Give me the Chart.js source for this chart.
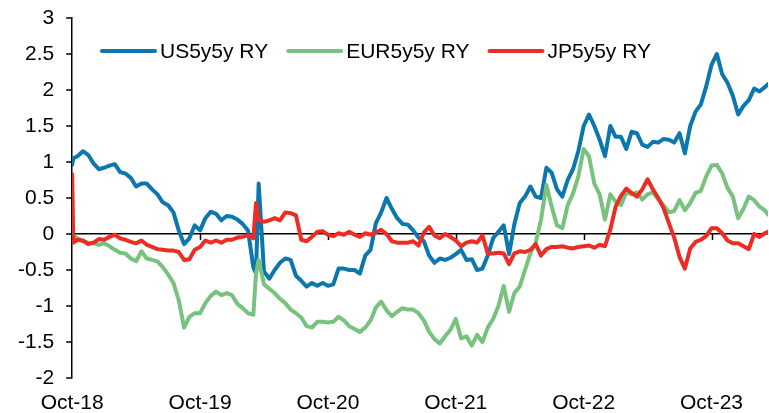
<!DOCTYPE html>
<html>
<head>
<meta charset="utf-8">
<script src="https://cdn.jsdelivr.net/npm/chart.js@4.4.1/dist/chart.umd.min.js"></script>
<style>
  html, body { margin: 0; padding: 0; background: #fff; }
  #wrap { width: 769px; height: 413px; }
</style>
</head>
<body>
<div id="wrap"><canvas id="chart" width="769" height="413"></canvas></div>
<script>
// ── Data (months since Oct-18, half-month steps) ─────────────
const months = [
  0, 0.1, 0.5, 1, 1.5, 2, 2.5, 3, 3.5, 4, 4.5, 5, 5.5, 6, 6.5, 7, 7.5, 8, 8.5, 9, 9.5,
  10, 10.5, 11, 11.5, 12, 12.5, 13, 13.5, 14, 14.5, 15, 15.5, 16, 16.5, 17, 17.25, 17.5,
  18, 18.5, 19, 19.5, 20, 20.5, 21, 21.5, 22, 22.5, 23, 23.5, 24, 24.5, 25, 25.5, 26,
  26.5, 27, 27.5, 28, 28.5, 29, 29.5, 30, 30.5, 31, 31.5, 32, 32.5, 33, 33.5, 34, 34.5,
  35, 35.5, 36, 36.5, 37, 37.5, 38, 38.5, 39, 39.5, 40, 40.5, 41, 41.5, 42, 42.5, 43,
  43.5, 44, 44.5, 45, 45.5, 46, 46.5, 47, 47.5, 48, 48.5, 49, 49.5, 50, 50.5, 51, 51.5,
  52, 52.5, 53, 53.5, 54, 54.5, 55, 55.5, 56, 56.5, 57, 57.5, 58, 58.5, 59, 59.5, 60,
  60.5, 61, 61.5, 62, 62.5, 63, 63.5, 64, 64.5, 65, 65.3
];

const us5y5y = [
  0.96, 1.05, 1.08, 1.15, 1.10, 0.98, 0.90, 0.92, 0.95, 0.97, 0.86, 0.84, 0.78, 0.66, 0.70, 0.70, 0.62, 0.55, 0.44, 0.40, 0.30,
  0.05, -0.14, -0.06, 0.12, 0.05, 0.22, 0.31, 0.28, 0.19, 0.25, 0.24, 0.20, 0.14, 0.05, -0.46, -0.55, 0.70,
  -0.52, -0.62, -0.50, -0.40, -0.34, -0.36, -0.58, -0.65, -0.73, -0.68, -0.72, -0.68, -0.72, -0.70, -0.48, -0.48, -0.50,
  -0.50, -0.55, -0.30, -0.22, 0.15, 0.30, 0.50, 0.35, 0.22, 0.14, 0.13, 0.05, -0.05, -0.10, -0.30, -0.40, -0.34,
  -0.36, -0.33, -0.28, -0.22, -0.36, -0.35, -0.50, -0.48, -0.30, -0.06, 0.03, 0.12, -0.28, 0.14, 0.43, 0.52, 0.66,
  0.52, 0.50, 0.92, 0.85, 0.62, 0.52, 0.75, 0.90, 1.15, 1.50, 1.66, 1.50, 1.31, 1.08, 1.50, 1.35, 1.35,
  1.18, 1.42, 1.40, 1.24, 1.21, 1.28, 1.27, 1.32, 1.31, 1.27, 1.40, 1.12, 1.50, 1.70, 1.80, 2.05, 2.35,
  2.50, 2.22, 2.10, 1.92, 1.66, 1.78, 1.86, 2.02, 1.98, 2.04, 2.08
];

const eur5y5y = [
  0.00, -0.02, -0.06, -0.10, -0.12, -0.13, -0.15, -0.13, -0.17, -0.22, -0.26, -0.27, -0.34, -0.38, -0.24, -0.34, -0.36, -0.38, -0.46, -0.56, -0.68,
  -0.92, -1.30, -1.15, -1.10, -1.10, -0.96, -0.86, -0.80, -0.85, -0.82, -0.85, -0.97, -1.03, -1.10, -1.12, -0.55, -0.36,
  -0.70, -0.76, -0.82, -0.90, -0.96, -1.05, -1.10, -1.16, -1.28, -1.30, -1.22, -1.22, -1.23, -1.22, -1.15, -1.20, -1.28,
  -1.32, -1.36, -1.30, -1.20, -1.02, -0.94, -1.06, -1.14, -1.08, -1.03, -1.05, -1.05, -1.10, -1.20, -1.36, -1.46, -1.52,
  -1.42, -1.33, -1.18, -1.45, -1.42, -1.55, -1.40, -1.50, -1.30, -1.18, -1.00, -0.72, -1.08, -0.82, -0.73, -0.50, -0.27,
  -0.12, 0.20, 0.68, 0.38, 0.12, 0.08, 0.40, 0.56, 0.80, 1.18, 1.08, 0.70, 0.55, 0.20, 0.55, 0.45, 0.40,
  0.58, 0.55, 0.58, 0.48, 0.55, 0.58, 0.48, 0.40, 0.30, 0.32, 0.47, 0.33, 0.43, 0.57, 0.60, 0.80, 0.95,
  0.96, 0.84, 0.64, 0.52, 0.22, 0.35, 0.52, 0.47, 0.38, 0.33, 0.27
];

const jp5y5y = [
  0.83, -0.12, -0.08, -0.09, -0.14, -0.12, -0.07, -0.08, -0.04, -0.01, -0.06, -0.08, -0.11, -0.13, -0.09, -0.15, -0.18, -0.21, -0.22, -0.23, -0.23,
  -0.25, -0.36, -0.35, -0.22, -0.18, -0.09, -0.12, -0.09, -0.12, -0.08, -0.08, -0.05, -0.04, -0.02, -0.06, 0.43, 0.20,
  0.17, 0.19, 0.22, 0.19, 0.30, 0.29, 0.26, -0.08, -0.10, -0.04, 0.03, 0.04, -0.01, -0.03, 0.01, -0.01, 0.03,
  -0.01, -0.04, 0.01, -0.01, 0.02, 0.06, 0.00, -0.10, -0.12, -0.12, -0.12, -0.10, -0.16, 0.02, 0.10, -0.02, -0.06,
  0.00, -0.04, -0.09, -0.17, -0.12, -0.10, -0.12, -0.02, -0.27, -0.27, -0.26, -0.27, -0.42, -0.27, -0.24, -0.25, -0.22,
  -0.14, -0.30, -0.21, -0.18, -0.18, -0.17, -0.19, -0.20, -0.18, -0.17, -0.16, -0.19, -0.15, -0.17, 0.06, 0.38, 0.53,
  0.63, 0.57, 0.52, 0.62, 0.76, 0.62, 0.50, 0.36, 0.15, -0.05, -0.32, -0.48, -0.20, -0.11, -0.08, -0.03, 0.08,
  0.08, 0.01, -0.09, -0.13, -0.13, -0.17, -0.21, 0.00, -0.04, 0.01, 0.03
];

const seriesNames = ['US5y5y RY', 'EUR5y5y RY', 'JP5y5y RY'];
const seriesColors = ['#0B77AE', '#77C27D', '#EB2D24'];

const xTickMonths = [0, 12, 24, 36, 48, 60];
const xTickLabels = ['Oct-18', 'Oct-19', 'Oct-20', 'Oct-21', 'Oct-22', 'Oct-23'];

const FONT = { family: '"Liberation Sans", Arial, sans-serif', size: 21, lineHeight: 1.0 };

// ── Plugins ─────────────────────────────────────────────────
// short black tick marks: left of the y axis, and under the zero line
const axisTicks = {
  id: 'axisTicks',
  beforeDatasetsDraw(chart) {
    const { ctx, chartArea, scales: { x, y } } = chart;
    const py0 = y.getPixelForValue(0);
    ctx.save();
    ctx.strokeStyle = '#000';
    ctx.lineWidth = 1.5;
    ctx.beginPath();
    y.ticks.forEach(t => {
      const py = y.getPixelForValue(t.value);
      ctx.moveTo(chartArea.left - 6, py);
      ctx.lineTo(chartArea.left, py);
    });
    xTickMonths.forEach(m => {
      const px = Math.round(x.getPixelForValue(m)) + 0.5;
      ctx.moveTo(px, py0);
      ctx.lineTo(px, py0 + 6);
    });
    ctx.stroke();
    ctx.restore();
  }
};

// legend sits inside the plot like the Excel one
const inlineLegend = {
  id: 'inlineLegend',
  afterDraw(chart) {
    const ctx = chart.ctx;
    let x = 102;
    const y = 51;
    ctx.save();
    ctx.font = `${FONT.size}px ${FONT.family}`;
    ctx.textBaseline = 'middle';
    ctx.fillStyle = '#000';
    seriesNames.forEach((name, i) => {
      ctx.strokeStyle = seriesColors[i];
      ctx.lineWidth = 4;
      ctx.lineCap = 'round';
      ctx.beginPath();
      ctx.moveTo(x, y);
      ctx.lineTo(x + 53, y);
      ctx.stroke();
      ctx.fillText(name, x + 58, y + 1);
      x += 58 + ctx.measureText(name).width + 20;
    });
    ctx.restore();
  }
};

// ── Chart ───────────────────────────────────────────────────
const seriesValues = [us5y5y, eur5y5y, jp5y5y];

new Chart(document.getElementById('chart'), {
  type: 'line',
  data: {
    datasets: seriesNames.map((name, i) => ({
      label: name,
      data: months.map((m, j) => ({ x: m, y: seriesValues[i][j] })),
      borderColor: seriesColors[i],
      borderWidth: 4,
      pointRadius: 0,
      tension: 0,
      borderJoinStyle: 'round',
      borderCapStyle: 'round',
      order: 3 - i,
    }))
  },
  options: {
    responsive: false,
    animation: false,
    devicePixelRatio: 1,
    layout: { padding: { left: 15, right: 1, top: 18, bottom: 0 } },
    plugins: {
      legend: { display: false },
      tooltip: { enabled: false },
    },
    scales: {
      x: {
        type: 'linear',
        min: 0,
        max: 65.3,
        afterBuildTicks: scale => { scale.ticks = xTickMonths.map(v => ({ value: v })); },
        afterFit: scale => { scale.height = 35; },
        ticks: {
          autoSkip: false,
          maxRotation: 0,
          padding: 15,
          color: '#000',
          font: FONT,
          callback: v => xTickLabels[xTickMonths.indexOf(v)] ?? '',
        },
        grid: { display: false, drawTicks: false },
        border: { display: false },
      },
      y: {
        min: -2,
        max: 3,
        ticks: {
          stepSize: 0.5,
          padding: 3,
          color: '#000',
          font: FONT,
          callback: v => `${+v.toFixed(1)}`,
        },
        grid: {
          color: c => (c.tick && c.tick.value === 0 ? '#000' : 'rgba(0,0,0,0)'),
          tickColor: 'rgba(0,0,0,0)',
          tickLength: 15,
          lineWidth: 1.5,
        },
        border: { color: '#000', width: 1.5 },
      }
    }
  },
  plugins: [axisTicks, inlineLegend]
});
</script>
</body>
</html>
